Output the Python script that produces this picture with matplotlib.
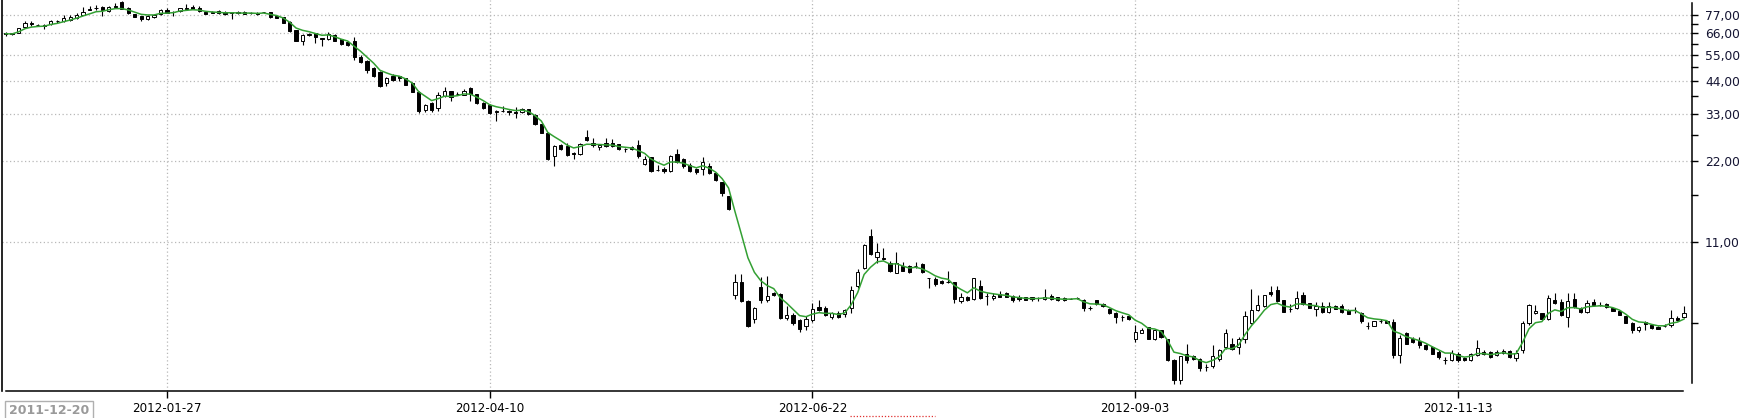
import matplotlib
matplotlib.use("Agg")
import matplotlib.pyplot as plt
from matplotlib.lines import Line2D
from matplotlib.ticker import FixedLocator, NullFormatter, FixedFormatter
import numpy as np
import pandas as pd

# ---------------- data ----------------
opens = [66.5, 66.0, 66.2, 69.5, 72.4, 70.9, 70.7, 71.8, 73.6, 73.5,
         74.0, 75.5, 77.4, 81.7, 82.2, 83.0, 80.0, 83.8, 86.5, 82.1,
         77.7, 76.3, 74.8, 75.7, 77.9, 81.0, 79.6, 80.0, 82.3, 82.5,
         82.0, 79.2, 79.6, 80.1, 79.4, 79.2, 79.6, 79.3, 78.9, 78.5,
         79.0, 79.3, 76.5, 75.9, 72.7, 68.0, 62.0, 65.3, 66.0, 63.2,
         62.7, 65.2, 62.7, 61.3, 62.0, 54.0, 52.2, 49.1, 47.3, 43.3,
         45.9, 45.6, 44.9, 43.0, 40.0, 34.2, 36.4, 34.8, 38.6, 40.2,
         39.3, 39.0, 41.3, 39.1, 36.4, 35.8, 33.6, 33.9, 34.0, 33.5,
         33.7, 34.4, 32.7, 30.3, 28.2, 23.0, 25.4, 25.2, 23.6, 23.4,
         27.2, 25.8, 24.8, 25.8, 25.8, 25.5, 24.5, 24.8, 25.4, 21.6,
         22.8, 20.5, 20.6, 20.2, 23.4, 22.4, 21.4, 20.7, 20.7, 21.2,
         19.9, 18.4, 16.3, 7.00, 7.84, 6.67, 5.70, 7.52, 6.70, 7.10,
         7.07, 5.73, 5.90, 5.65, 5.37, 5.65, 6.30, 6.25, 5.78, 5.98,
         5.95, 6.25, 7.56, 8.80, 11.6, 9.72, 9.59, 9.23, 8.47, 9.00,
         8.97, 9.00, 9.10, 8.07, 8.03, 7.88, 7.85, 7.82, 6.65, 6.90,
         6.77, 7.56, 6.94, 6.80, 7.07, 7.10, 6.94, 6.90, 6.85, 6.88,
         6.80, 6.75, 6.93, 6.85, 6.82, 6.78, 6.82, 6.70, 6.25, 6.69,
         6.45, 6.20, 5.98, 5.78, 5.85, 4.81, 5.07, 5.30, 4.79, 5.17,
         4.79, 4.02, 3.38, 4.20, 4.15, 4.03, 3.78, 3.80, 4.03, 4.47,
         4.60, 4.47, 4.78, 5.50, 6.16, 6.35, 7.18, 7.30, 6.71, 6.20,
         6.25, 7.00, 6.52, 6.20, 6.35, 6.05, 6.39, 6.35, 6.16, 6.16,
         5.98, 5.37, 5.37, 5.60, 5.60, 5.55, 4.18, 5.04, 4.81, 4.70,
         4.54, 4.47, 4.28, 4.02, 3.99, 4.22, 4.08, 3.99, 4.18, 4.30,
         4.30, 4.18, 4.26, 4.33, 4.07, 4.35, 5.50, 5.98, 6.00, 5.67,
         6.71, 6.60, 5.78, 6.75, 6.25, 6.05, 6.60, 6.42, 6.48, 6.25,
         6.12, 5.84, 5.50, 5.17, 5.55, 5.40, 5.33, 5.37, 5.40, 5.73,
         5.78]
highs = [67.0, 66.3, 69.4, 73.7, 73.5, 71.7, 71.3, 74.3, 74.2, 77.0,
         77.5, 78.9, 83.0, 83.5, 84.2, 83.7, 83.6, 85.7, 86.8, 82.8,
         78.0, 76.6, 77.5, 78.0, 81.3, 82.0, 79.8, 82.3, 85.0, 84.5,
         83.7, 79.5, 80.0, 80.5, 80.1, 79.6, 80.0, 79.7, 79.6, 79.0,
         79.4, 79.4, 76.6, 76.0, 73.4, 68.1, 65.5, 66.5, 66.2, 63.5,
         67.0, 65.4, 63.0, 62.0, 63.9, 55.0, 52.6, 49.5, 48.0, 45.3,
         46.6, 45.7, 45.2, 43.4, 40.2, 36.0, 36.7, 39.9, 41.8, 40.3,
         40.0, 41.0, 41.6, 39.2, 36.6, 36.1, 34.1, 35.5, 34.1, 35.0,
         34.7, 34.5, 33.1, 30.4, 28.3, 25.4, 25.5, 25.8, 23.9, 25.8,
         28.7, 26.9, 25.5, 26.9, 26.7, 25.6, 24.6, 25.1, 26.4, 23.1,
         22.9, 21.3, 20.9, 23.3, 24.4, 22.6, 21.7, 20.8, 22.8, 21.8,
         20.0, 18.5, 16.4, 8.40, 8.35, 6.70, 6.30, 8.19, 8.20, 7.20,
         7.10, 6.35, 6.00, 5.68, 5.85, 6.55, 6.70, 6.35, 6.05, 6.10,
         6.20, 7.55, 8.75, 10.8, 12.3, 10.9, 10.45, 9.40, 10.15, 9.27,
         9.05, 9.30, 9.20, 8.10, 8.15, 7.95, 8.60, 7.85, 7.10, 6.95,
         8.10, 7.98, 7.10, 7.10, 7.25, 7.15, 7.00, 7.00, 6.88, 6.90,
         6.85, 7.39, 7.05, 6.90, 6.85, 6.82, 6.86, 6.75, 6.35, 6.72,
         6.55, 6.25, 6.05, 5.90, 5.90, 5.40, 5.25, 5.32, 5.22, 5.20,
         4.80, 4.03, 4.15, 4.60, 4.18, 4.08, 3.88, 4.56, 4.42, 5.22,
         4.85, 4.90, 6.10, 7.39, 7.00, 7.00, 7.55, 7.55, 6.72, 6.50,
         7.25, 7.20, 6.55, 6.60, 6.60, 6.60, 6.42, 6.45, 6.18, 6.30,
         6.05, 5.55, 5.60, 5.68, 5.62, 5.70, 4.97, 5.10, 4.90, 4.90,
         4.60, 4.50, 4.36, 4.10, 4.35, 4.28, 4.12, 4.25, 4.77, 4.35,
         4.32, 4.38, 4.40, 4.36, 4.35, 5.60, 6.50, 6.42, 6.02, 7.00,
         7.10, 6.75, 7.10, 7.10, 6.30, 6.70, 6.75, 6.60, 6.55, 6.27,
         6.14, 5.86, 5.55, 5.35, 5.60, 5.45, 5.36, 5.47, 6.16, 5.85,
         6.35]
lows = [64.5, 65.0, 66.0, 69.2, 70.5, 70.3, 68.8, 71.0, 72.3, 72.9,
        73.2, 74.6, 77.0, 80.7, 80.7, 76.8, 79.5, 83.0, 81.5, 77.7,
        76.0, 73.2, 74.0, 75.3, 77.4, 78.3, 76.5, 79.6, 81.2, 81.6,
        79.5, 77.9, 78.4, 78.0, 77.0, 74.9, 78.0, 77.8, 78.1, 77.6,
        78.6, 75.5, 75.1, 72.0, 66.8, 61.8, 60.0, 64.5, 60.8, 59.0,
        62.5, 61.8, 60.0, 59.4, 52.6, 51.0, 47.0, 45.5, 41.6, 42.0,
        43.8, 43.7, 42.3, 39.8, 33.3, 33.5, 33.7, 33.9, 38.3, 37.0,
        38.8, 38.8, 36.8, 36.0, 34.6, 33.0, 31.0, 33.5, 32.8, 32.0,
        33.4, 32.7, 30.0, 28.0, 22.3, 21.2, 24.3, 23.1, 22.4, 23.3,
        26.3, 25.0, 24.2, 24.9, 24.9, 24.3, 23.9, 24.3, 22.6, 21.4,
        20.1, 20.2, 19.9, 20.1, 21.8, 20.8, 20.1, 19.8, 19.6, 19.8,
        18.6, 16.4, 14.5, 6.78, 6.60, 5.30, 5.50, 6.52, 6.60, 6.95,
        5.70, 5.65, 5.40, 5.10, 5.20, 5.55, 6.10, 5.85, 5.68, 5.75,
        5.78, 6.00, 7.40, 8.75, 9.90, 9.20, 9.45, 8.55, 8.45, 8.60,
        8.45, 8.85, 8.45, 7.43, 7.55, 7.70, 7.75, 6.53, 6.55, 6.65,
        6.70, 6.75, 6.40, 6.70, 6.85, 6.85, 6.60, 6.65, 6.70, 6.65,
        6.65, 6.70, 6.70, 6.65, 6.65, 6.74, 6.78, 6.10, 6.15, 6.40,
        6.30, 5.95, 5.50, 5.60, 5.65, 4.68, 5.05, 4.78, 4.75, 4.85,
        3.98, 3.26, 3.25, 3.90, 4.00, 3.65, 3.65, 3.75, 3.98, 4.40,
        4.35, 4.22, 4.65, 5.45, 6.12, 6.30, 6.95, 6.60, 6.05, 6.05,
        6.20, 6.40, 6.25, 5.85, 6.00, 6.02, 6.20, 6.00, 5.95, 6.02,
        5.50, 5.22, 5.35, 5.52, 5.48, 4.06, 3.90, 4.58, 4.62, 4.45,
        4.38, 4.20, 4.05, 3.88, 3.97, 3.95, 3.96, 3.96, 4.14, 4.18,
        4.08, 4.14, 4.20, 4.08, 3.97, 4.25, 5.40, 5.95, 5.67, 5.64,
        6.50, 5.85, 5.33, 6.25, 6.00, 6.00, 6.38, 6.35, 6.25, 6.12,
        5.90, 5.50, 5.05, 5.10, 5.20, 5.22, 5.22, 5.30, 5.33, 5.62,
        5.74]
closes = [65.8, 65.5, 69.2, 72.4, 71.6, 70.8, 70.6, 73.3, 73.3, 75.0,
          76.2, 77.5, 79.6, 80.7, 82.4, 80.5, 83.0, 83.1, 81.7, 78.8,
          76.2, 74.8, 76.5, 77.3, 80.6, 78.8, 79.5, 82.3, 81.3, 81.7,
          80.0, 78.1, 78.5, 78.5, 78.1, 78.9, 78.5, 78.2, 78.7, 77.9,
          79.1, 75.9, 75.3, 72.2, 67.3, 62.0, 65.1, 65.4, 63.8, 63.0,
          65.6, 62.0, 60.2, 59.8, 53.7, 51.6, 48.3, 45.8, 42.0, 44.9,
          44.3, 44.9, 42.5, 40.0, 33.8, 35.6, 34.2, 38.9, 40.2, 38.2,
          39.2, 40.4, 39.1, 36.2, 34.8, 33.2, 34.0, 34.0, 33.5, 33.4,
          34.4, 33.0, 30.3, 28.1, 22.4, 25.2, 24.5, 23.3, 23.5, 25.6,
          26.5, 25.4, 25.4, 25.2, 25.2, 24.4, 24.5, 24.4, 23.1, 22.4,
          20.2, 20.5, 20.3, 23.1, 21.9, 21.2, 20.3, 20.1, 21.9, 19.9,
          18.7, 16.8, 14.6, 7.84, 6.67, 5.37, 6.25, 6.71, 6.94, 7.00,
          5.73, 5.90, 5.50, 5.22, 5.70, 6.20, 6.16, 5.90, 5.98, 5.80,
          6.16, 7.31, 8.55, 10.75, 9.95, 10.15, 9.50, 8.62, 9.20, 8.62,
          8.50, 9.00, 8.50, 8.07, 7.70, 7.75, 7.85, 6.75, 6.85, 6.70,
          8.07, 6.80, 6.94, 6.94, 6.90, 6.90, 6.71, 6.75, 6.71, 6.75,
          6.80, 6.90, 6.75, 6.70, 6.70, 6.78, 6.82, 6.25, 6.25, 6.45,
          6.35, 5.98, 5.78, 5.78, 5.70, 5.10, 5.20, 4.79, 5.17, 4.90,
          4.00, 3.36, 4.13, 3.99, 4.03, 3.73, 3.78, 4.15, 4.35, 5.04,
          4.40, 4.81, 5.84, 6.16, 6.42, 6.98, 7.05, 6.67, 6.05, 6.20,
          6.80, 6.50, 6.25, 6.35, 6.05, 6.35, 6.22, 6.05, 5.95, 6.16,
          5.60, 5.37, 5.58, 5.60, 5.50, 4.18, 4.83, 4.60, 4.66, 4.57,
          4.41, 4.22, 4.12, 4.02, 4.25, 3.99, 3.99, 4.20, 4.43, 4.22,
          4.12, 4.30, 4.33, 4.12, 4.25, 5.50, 6.40, 6.08, 5.67, 6.80,
          6.52, 5.90, 6.67, 6.30, 6.05, 6.55, 6.42, 6.42, 6.30, 6.12,
          5.90, 5.50, 5.17, 5.30, 5.47, 5.26, 5.24, 5.37, 5.73, 5.65,
          5.98]

date_labels = ["2012-01-27", "2012-04-10", "2012-06-22", "2012-09-03", "2012-11-13"]
date_bar_index = [25, 75, 125, 175, 225]
first_date = "2011-12-20"

price_ticks = [11, 22, 33, 44, 55, 66, 77]
price_labels = ["11,00", "22,00", "33,00", "44,00", "55,00", "66,00", "77,00"]
minor_price_ticks = [5.5, 16.5, 27.5, 38.5, 49.5, 60.5, 71.5]

# ---------------- figure ----------------
W, H = 1747, 418
fig = plt.figure(figsize=(W / 100, H / 100), dpi=100)
fig.patch.set_facecolor("white")

ax_left, ax_right = 2, 1691
ax_top, ax_bottom = 0, 391
ax = fig.add_axes([ax_left / W, 1 - ax_bottom / H, (ax_right - ax_left) / W, (ax_bottom - ax_top) / H])
ax.set_facecolor("white")

o = np.array(opens); h = np.array(highs); l = np.array(lows); c = np.array(closes)
idx = np.arange(len(c))
up = c >= o

# wicks
ax.vlines(idx, l, h, color="black", linewidth=0.8, zorder=2)
# bodies
body_bottom = np.minimum(o, c)
body_height = np.abs(c - o)
ax.bar(idx[~up], body_height[~up], bottom=body_bottom[~up], width=0.5,
       color="black", edgecolor="black", linewidth=0.7, zorder=3)
ax.bar(idx[up], body_height[up], bottom=body_bottom[up], width=0.5,
       color="white", edgecolor="black", linewidth=0.7, zorder=3)

# moving average (EMA of closes)
ma = pd.Series(c).ewm(span=5, adjust=False).mean().values
ax.plot(idx, ma, color="#33a033", linewidth=1.1, zorder=4, solid_joinstyle="round")

ax.set_yscale("log")
ax.set_ylim(3.07, 87.9)
ax.set_xlim(-0.558, 261.1)

# y axis on right
ax.yaxis.tick_right()
ax.yaxis.set_major_locator(FixedLocator(price_ticks))
ax.yaxis.set_major_formatter(FixedFormatter(price_labels))
ax.yaxis.set_minor_locator(FixedLocator(minor_price_ticks))
ax.yaxis.set_minor_formatter(NullFormatter())
ax.tick_params(axis="y", which="both", direction="out", length=5, width=1,
               color="black", pad=5, labelsize=8.8, labelcolor="#141432")

# x axis
ax.set_xticks(date_bar_index)
ax.set_xticklabels(date_labels)
ax.tick_params(axis="x", which="major", direction="out", length=5, width=1,
               color="black", pad=3, labelsize=8.6, labelcolor="black")

# grid
ax.grid(True, which="major", axis="both", color="#b8b8b8",
        linestyle=(0, (1, 2)), linewidth=0.9, zorder=0)
ax.set_axisbelow(True)

for s in ["top", "right", "bottom"]:
    ax.spines[s].set_visible(False)
ax.spines["left"].set_linewidth(1.2)
ax.spines["left"].set_color("black")

# separate axis lines as in the reference
fig.add_artist(Line2D([6 / W, 1683 / W], [1 - 391 / H, 1 - 391 / H], color="black", linewidth=1.1))
fig.add_artist(Line2D([1691.5 / W, 1691.5 / W], [1 - 3 / H, 1 - 383 / H], color="black", linewidth=1.1))

# first date box
fig.text(9 / W, 1 - 411 / H, first_date, fontsize=9, fontweight="bold", color="#9a9a9a",
         ha="left", va="center",
         bbox=dict(boxstyle="square,pad=0.3", facecolor="white", edgecolor="#b0b0b0", linewidth=1))

# small red dotted marker at bottom
fig.add_artist(Line2D([850 / W, 935 / W], [1 - 416 / H, 1 - 416 / H], color="#e03030",
                      linewidth=0.9, linestyle=(0, (1, 1.5))))

fig.savefig("out.png", dpi=100, facecolor="white")
